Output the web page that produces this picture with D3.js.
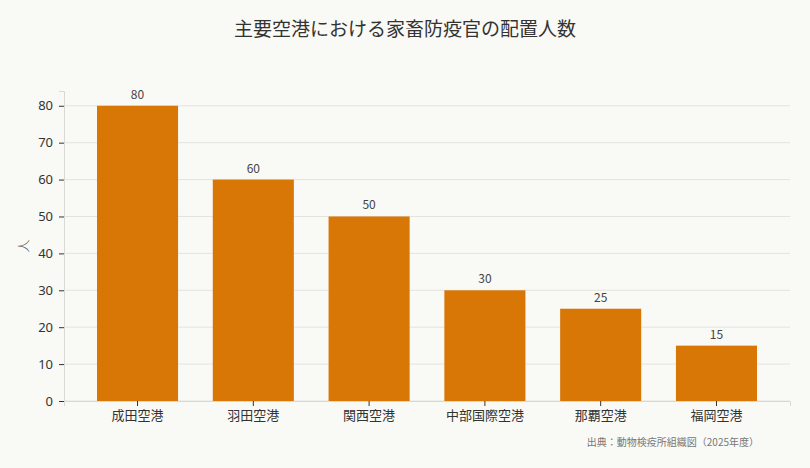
<!DOCTYPE html>
<html>
<head>
<meta charset="utf-8">
<script src="https://cdn.jsdelivr.net/npm/d3@7"></script>
<style>
  body { margin: 0; background: #f9f9f5; }
  text { font-family: "Noto Sans CJK JP", "Noto Sans", sans-serif; }
</style>
</head>
<body>
<div id="chart"></div>
<script>
const airports = ["成田空港", "羽田空港", "関西空港", "中部国際空港", "那覇空港", "福岡空港"]
const officers = [80, 60, 50, 30, 25, 15]
const yTicks = [0, 10, 20, 30, 40, 50, 60, 70, 80]

const titleText = "主要空港における家畜防疫官の配置人数"
const yLabel = "人"
const sourceText = "出典：動物検疫所組織図（2025年度）"

const width = 810, height = 468
const margin = {top: 91, right: 20, bottom: 67, left: 64}
const innerW = width - margin.left - margin.right
const innerH = height - margin.top - margin.bottom

const svg = d3.select("#chart")
  .append("svg")
    .attr("width", width)
    .attr("height", height)
    .style("background", "#f9f9f5")

svg.append("text")
  .attr("x", width / 2)
  .attr("y", 36)
  .attr("text-anchor", "middle")
  .attr("font-size", 19)
  .attr("fill", "#333")
  .text(titleText)

const g = svg.append("g")
  .attr("transform", `translate(${margin.left},${margin.top})`)

const x = d3.scaleBand()
  .domain(airports)
  .range([0, innerW])
  .paddingInner(0.3)
  .paddingOuter(0.285)

const y = d3.scaleLinear()
  .domain([0, 84])
  .range([innerH, 0])

// grid lines
g.append("g")
  .selectAll("line")
  .data(yTicks)
  .join("line")
    .attr("x1", 0)
    .attr("x2", innerW)
    .attr("y1", d => y(d))
    .attr("y2", d => y(d))
    .attr("stroke", "#e4e4df")
    .attr("stroke-width", 1)

// bars
g.selectAll("rect")
  .data(officers)
  .join("rect")
    .attr("x", (d, i) => x(airports[i]))
    .attr("y", d => y(d))
    .attr("width", x.bandwidth())
    .attr("height", d => innerH - y(d))
    .attr("fill", "#d97706")

// value labels
g.selectAll(".val")
  .data(officers)
  .join("text")
    .attr("class", "val")
    .attr("x", (d, i) => x(airports[i]) + x.bandwidth() / 2)
    .attr("y", d => y(d) - 7)
    .attr("text-anchor", "middle")
    .attr("font-size", 12)
    .attr("fill", "#444")
    .text(d => d)

// y axis
const yAxis = g.append("g")
  .call(d3.axisLeft(y).tickValues(yTicks).tickSize(5).tickPadding(6))
yAxis.select(".domain").attr("stroke", "#d9d9d4")
yAxis.selectAll(".tick line").attr("stroke", "#333")
yAxis.selectAll(".tick text")
  .attr("font-size", 13)
  .attr("fill", "#333")
  .style("font-family", "'Noto Sans', sans-serif")

// x axis
const xAxis = g.append("g")
  .attr("transform", `translate(0,${innerH})`)
  .call(d3.axisBottom(x).tickSize(5).tickPadding(5))
xAxis.select(".domain").attr("stroke", "#d9d9d4")
xAxis.selectAll(".tick line").attr("stroke", "#333")
xAxis.selectAll(".tick text")
  .attr("font-size", 13)
  .attr("fill", "#333")

// y label
svg.append("text")
  .attr("transform", `translate(28,${margin.top + innerH / 2}) rotate(-90)`)
  .attr("text-anchor", "middle")
  .attr("font-size", 13)
  .attr("fill", "#555")
  .attr("font-weight", 300)
  .text(yLabel)

// source
svg.append("text")
  .attr("x", 759)
  .attr("y", 446)
  .attr("text-anchor", "end")
  .attr("font-size", 10)
  .attr("fill", "#777")
  .text(sourceText)
</script>
</body>
</html>
